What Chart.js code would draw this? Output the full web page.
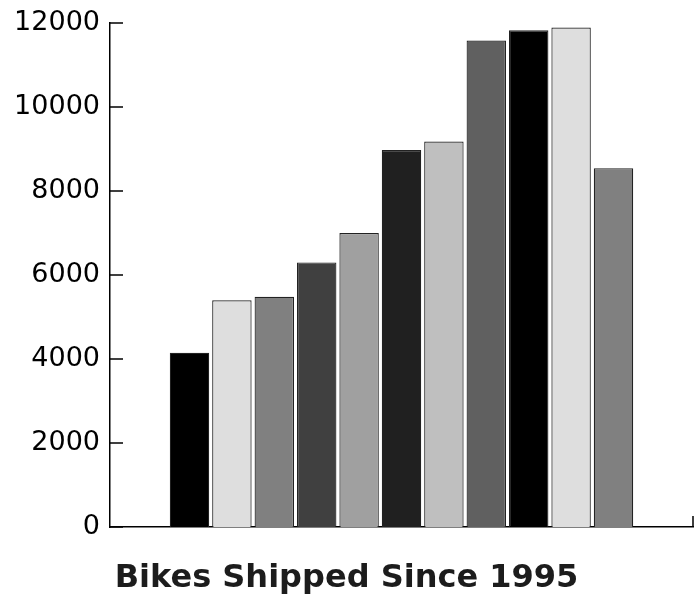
<!DOCTYPE html>
<html>
<head>
<meta charset="utf-8">
<script src="https://cdn.jsdelivr.net/npm/chart.js@4/dist/chart.umd.min.js"></script>
<style>
  html, body { margin: 0; padding: 0; background: #fff; }
  #wrap { width: 700px; height: 595px; }
</style>
</head>
<body>
<div id="wrap"><canvas id="c" width="700" height="595"></canvas></div>
<script>
const categories = ['Bikes Shipped Since 1995'];
const years = ['1995','1996','1997','1998','1999','2000','2001','2002','2003','2004','2005'];
const shipped = [4150, 5400, 5480, 6300, 7000, 8975, 9180, 11585, 11825, 11890, 8540];
const barColors = ['#000000','#dedede','#808080','#404040','#a0a0a0','#202020','#bfbfbf','#606060','#000000','#dedede','#808080'];
const yTicks = [0, 2000, 4000, 6000, 8000, 10000, 12000];
const chartTitle = 'Bikes Shipped Since 1995';

const datasets = years.map((y, i) => ({
  label: y,
  data: [shipped[i]],
  backgroundColor: barColors[i],
  borderColor: '#222222',
  borderWidth: 1.2,
  borderSkipped: 'bottom',
  categoryPercentage: 0.8,
  barPercentage: 0.93
}));

const innerTicks = {
  id: 'innerTicks',
  afterDraw(chart) {
    const ctx = chart.ctx;
    const ys = chart.scales.y, xs = chart.scales.x;
    ctx.save();
    ctx.strokeStyle = '#000';
    ctx.lineWidth = 1.5;
    ctx.beginPath();
    ys.ticks.forEach((t, i) => {
      const py = ys.getPixelForTick(i);
      ctx.moveTo(ys.right, py);
      ctx.lineTo(ys.right + 13, py);
    });
    ctx.moveTo(xs.right, xs.top);
    ctx.lineTo(xs.right, xs.top - 11);
    ctx.stroke();
    ctx.restore();
  }
};

new Chart(document.getElementById('c'), {
  type: 'bar',
  data: { labels: categories, datasets },
  options: {
    responsive: false,
    animation: false,
    devicePixelRatio: 1,
    layout: { padding: { top: 23, right: 7, left: 0, bottom: 0 } },
    plugins: {
      legend: { display: false },
      tooltip: { enabled: false },
      title: {
        display: true,
        text: chartTitle,
        position: 'bottom',
        color: '#1c1c1c',
        font: { family: 'DejaVu Sans', size: 32, weight: 'bold', lineHeight: 1.0 },
        padding: { top: 36, bottom: 0 }
      }
    },
    scales: {
      x: {
        grid: { display: false, drawTicks: false },
        border: { display: true, color: '#000', width: 1.5 },
        ticks: { display: false }
      },
      y: {
        min: 0,
        max: 12000,
        afterFit(scale) { scale.width = 110; },
        afterBuildTicks(scale) { scale.ticks = yTicks.map(v => ({ value: v })); },
        grid: { display: false, drawTicks: false },
        border: { display: true, color: '#000', width: 1.5 },
        ticks: {
          color: '#000',
          padding: 10,
          font: { family: 'DejaVu Sans', size: 27, lineHeight: 0.8 },
          callback: v => String(v)
        }
      }
    }
  },
  plugins: [innerTicks]
});
</script>
</body>
</html>
